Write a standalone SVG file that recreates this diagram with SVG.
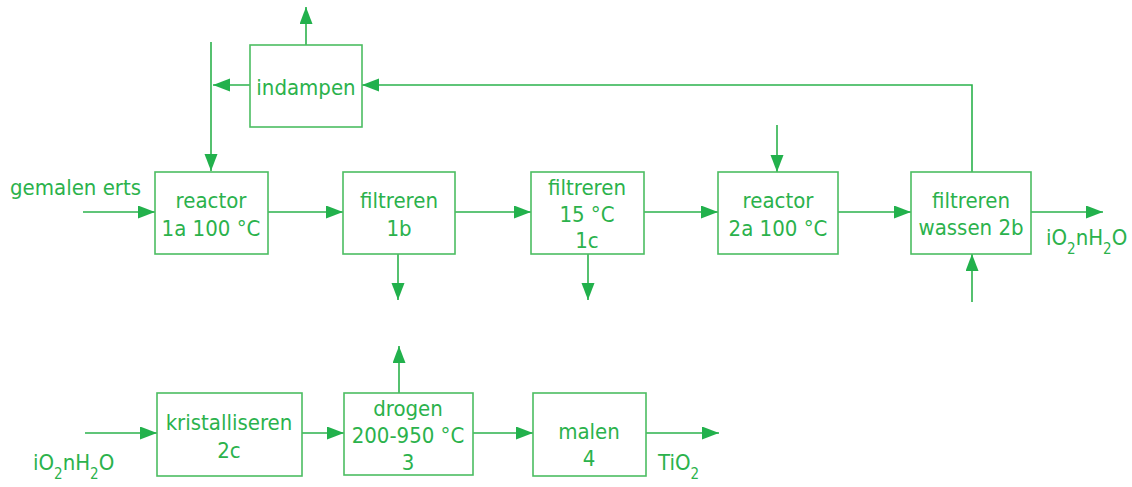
<svg xmlns="http://www.w3.org/2000/svg" width="1132" height="487" viewBox="0 0 1132 487">
  <style>
    .box { fill: #ffffff; stroke: #4cbd62; stroke-width: 1.6; }
    .lbl { font-family: "DejaVu Sans Condensed", "DejaVu Sans", sans-serif; font-size: 22px; fill: #2bb24c; text-anchor: middle; }
    .free { font-family: "DejaVu Sans Condensed", "DejaVu Sans", sans-serif; font-size: 22px; fill: #2bb24c; }
    .sub { font-size: 15px; }
    .flow { fill: none; stroke: #2bb24c; stroke-width: 1.6; }
  </style>
  <defs>
    <marker id="arrow" markerUnits="userSpaceOnUse" markerWidth="18" markerHeight="14" refX="17" refY="6.5" orient="auto">
      <path d="M0,0 L17,6.5 L0,13 Z" fill="#22b14c"/>
    </marker>
  </defs>
  <rect width="1132" height="487" fill="#ffffff"/>

  <!-- connectors -->
  <g id="connectors" class="flow" marker-end="url(#arrow)">
    <line x1="83" y1="212" x2="155" y2="212"/>
    <line x1="268" y1="212" x2="343" y2="212"/>
    <line x1="455" y1="212" x2="531" y2="212"/>
    <line x1="644" y1="212" x2="718" y2="212"/>
    <line x1="838" y1="212" x2="911" y2="212"/>
    <line x1="1031" y1="212" x2="1103" y2="212"/>
    <polyline points="972,172 972,85 362,85"/>
    <line x1="250" y1="85" x2="213" y2="85"/>
    <line x1="211" y1="42" x2="211" y2="171"/>
    <line x1="306" y1="45" x2="306" y2="7"/>
    <line x1="777" y1="125" x2="777" y2="172"/>
    <line x1="972" y1="302" x2="972" y2="254"/>
    <line x1="398" y1="254" x2="398" y2="300"/>
    <line x1="588" y1="254" x2="588" y2="300"/>
    <line x1="399" y1="393" x2="399" y2="346"/>
    <line x1="85" y1="433" x2="157" y2="433"/>
    <line x1="293" y1="433" x2="344" y2="433"/>
    <line x1="473" y1="433" x2="533" y2="433"/>
    <line x1="646" y1="433" x2="719" y2="433"/>
  </g>

  <!-- process steps -->
  <g id="indampen">
    <rect class="box" x="250" y="45" width="112" height="82"/>
    <text class="lbl" x="306" y="95">indampen</text>
  </g>
  <g id="reactor-1a">
    <rect class="box" x="155" y="172" width="113" height="82"/>
    <text class="lbl" x="211" y="208">reactor</text>
    <text class="lbl" x="211" y="236">1a 100 °C</text>
  </g>
  <g id="filtreren-1b">
    <rect class="box" x="343" y="172" width="112" height="82"/>
    <text class="lbl" x="399" y="208">filtreren</text>
    <text class="lbl" x="399" y="236">1b</text>
  </g>
  <g id="filtreren-1c">
    <rect class="box" x="531" y="172" width="113" height="82"/>
    <text class="lbl" x="587" y="195">filtreren</text>
    <text class="lbl" x="587" y="222">15 °C</text>
    <text class="lbl" x="587" y="248">1c</text>
  </g>
  <g id="reactor-2a">
    <rect class="box" x="718" y="172" width="120" height="82"/>
    <text class="lbl" x="778" y="208">reactor</text>
    <text class="lbl" x="778" y="236">2a 100 °C</text>
  </g>
  <g id="filtreren-2b">
    <rect class="box" x="911" y="172" width="120" height="82"/>
    <text class="lbl" x="971" y="208">filtreren</text>
    <text class="lbl" x="971" y="235">wassen 2b</text>
  </g>
  <g id="kristalliseren-2c">
    <rect class="box" x="157" y="393" width="145" height="83"/>
    <text class="lbl" x="229" y="430">kristalliseren</text>
    <text class="lbl" x="229" y="458">2c</text>
  </g>
  <g id="drogen-3">
    <rect class="box" x="344" y="393" width="129" height="82"/>
    <text class="lbl" x="408" y="416">drogen</text>
    <text class="lbl" x="408" y="443">200-950 °C</text>
    <text class="lbl" x="408" y="470">3</text>
  </g>
  <g id="malen-4">
    <rect class="box" x="533" y="393" width="113" height="83"/>
    <text class="lbl" x="589" y="439">malen</text>
    <text class="lbl" x="589" y="466">4</text>
  </g>

  <!-- stream labels -->
  <g id="labels">
    <text class="free" x="10" y="195">gemalen erts</text>
    <text class="free" x="1046" y="245">iO<tspan class="sub" dy="9">2</tspan><tspan dy="-9">nH</tspan><tspan class="sub" dy="9">2</tspan><tspan dy="-9">O</tspan></text>
    <text class="free" x="33" y="470">iO<tspan class="sub" dy="9">2</tspan><tspan dy="-9">nH</tspan><tspan class="sub" dy="9">2</tspan><tspan dy="-9">O</tspan></text>
    <text class="free" x="658" y="470">TiO<tspan class="sub" dy="9">2</tspan></text>
  </g>
</svg>
